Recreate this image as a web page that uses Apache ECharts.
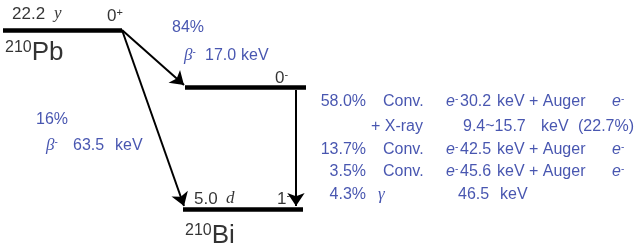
<!DOCTYPE html>
<html>
<head>
<meta charset="utf-8">
<script src="https://cdn.jsdelivr.net/npm/echarts@6/dist/echarts.min.js"></script>
<style>
  html, body { margin: 0; padding: 0; background: #fff; }
  #chart { width: 644px; height: 245px; }
</style>
</head>
<body>
<div id="chart"></div>
<script>
// decay scheme 210Pb -> 210Bi, drawn on a pixel-like value grid
const nuclides = ['Pb', 'Bi'];
const massNumber = '210';
const halfLives = ['22.2', '5.0'];
const halfLifeUnits = ['y', 'd'];
const spins = ['0', '0', '1'];
const parities = ['+', '-', '-'];

// levels: start x, end x, y
const levelStart = [3, 185, 183];
const levelEnd = [122, 306, 303];
const levelY = [30, 87, 209];

const branchPct = ['84%', '16%'];
const betaEnergy = ['17.0', '63.5'];

const convPct = ['58.0%', '13.7%', '3.5%', '4.3%'];
const convEnergy = ['30.2', '42.5', '45.6', '46.5'];
const convRowY = [102, 150, 172, 195];
const xrayRange = '9.4~15.7';
const xrayPct = '22.7%';

const blue = '#1a2c9c';
const font = 'Liberation Sans';

const chart = echarts.init(document.getElementById('chart'));

const levelData = levelStart.map((x0, i) => ({
  coords: [[x0, levelY[i]], [levelEnd[i], levelY[i]]]
}));

// transitions: beta branches from the 0+ level end, gamma/IC between Bi levels
const arrowData = [
  { coords: [[levelEnd[0], levelY[0]], [levelStart[1] - 1, levelY[1] - 2]] },
  { coords: [[levelEnd[0], levelY[0]], [levelStart[2] + 1, levelY[2] - 3]] },
  { coords: [[296, levelY[1] + 3], [296, levelY[2] - 3]] }
];

const rich = {
  t: { color: blue, fontSize: 16, fontFamily: font },
  i: { color: blue, fontSize: 16, fontFamily: font, fontStyle: 'italic' },
  g: { color: blue, fontSize: 17, fontFamily: 'Liberation Serif', fontStyle: 'italic' },
  s: { color: blue, fontSize: 10, fontFamily: font, verticalAlign: 'top' },
  k: { color: '#000', fontSize: 17, fontFamily: font },
  ki: { color: '#000', fontSize: 17, fontFamily: 'Liberation Serif', fontStyle: 'italic' },
  ks: { color: '#000', fontSize: 11, fontFamily: font, verticalAlign: 'top' },
  big: { color: '#000', fontSize: 26, fontFamily: font },
  bigs: { color: '#000', fontSize: 16, fontFamily: font, verticalAlign: 'top' }
};

function txt(x, y, str, side) {
  return {
    value: [x, y],
    label: { formatter: str, position: side || 'right' }
  };
}

const e = '{i|e}{s|-}';
const labels = [
  txt(12, 14, `{k|${halfLives[0]}}`),
  txt(54, 14, `{ki|${halfLifeUnits[0]}}`),
  txt(107, 16, `{k|${spins[0]}}{ks|${parities[0]}}`),
  txt(5, 53, `{bigs|${massNumber}}{big|${nuclides[0]}}`),
  txt(275, 78, `{k|${spins[1]}}{ks|${parities[1]}}`),
  txt(194, 199, `{k|${halfLives[1]}}`),
  txt(226, 199, `{ki|${halfLifeUnits[1]}}`),
  txt(277, 199, `{k|${spins[2]}}{ks|${parities[2]}}`),
  txt(185, 236, `{bigs|${massNumber}}{big|${nuclides[1]}}`),

  txt(172, 28, `{t|${branchPct[0]}}`),
  txt(184, 56, `{g|β}{s|-}`),
  txt(205, 56, `{t|${betaEnergy[0]}}`),
  txt(241, 56, `{t|keV}`),
  txt(36, 120, `{t|${branchPct[1]}}`),
  txt(46, 146, `{g|β}{s|-}`),
  txt(73, 146, `{t|${betaEnergy[1]}}`),
  txt(115, 146, `{t|keV}`),

  txt(371, 127, `{t|+ X-ray}`),
  txt(463, 127, `{t|${xrayRange}}`),
  txt(541, 127, `{t|keV}`),
  txt(578, 127, `{t|(${xrayPct})}`)
];

convPct.forEach((p, i) => {
  const y = convRowY[i];
  labels.push(txt(366, y, `{t|${p}}`, 'left'));
  labels.push(txt(i < 3 ? 497 : 500, y, `{t|keV}`));
  if (i < 3) {
    labels.push(txt(383, y, `{t|Conv.}`));
    labels.push(txt(446, y, e));
    labels.push(txt(460, y, `{t|${convEnergy[i]}}`));
    labels.push(txt(529, y, `{t|+ Auger}`));
    labels.push(txt(612, y, e));
  } else {
    labels.push(txt(378, y, `{g|γ}`));
    labels.push(txt(458, y, `{t|${convEnergy[i]}}`));
  }
});

chart.setOption({
  animation: false,
  grid: { left: 0, right: 0, top: 0, bottom: 0 },
  xAxis: { type: 'value', min: 0, max: 644, show: false },
  yAxis: { type: 'value', min: 0, max: 245, inverse: true, show: false },
  series: [
    {
      type: 'lines',
      coordinateSystem: 'cartesian2d',
      symbol: 'none',
      lineStyle: { color: '#000', width: 4.5, opacity: 1 },
      data: levelData
    },
    {
      type: 'lines',
      coordinateSystem: 'cartesian2d',
      symbol: ['none', 'arrow'],
      symbolSize: [7, 13],
      lineStyle: { color: '#000', width: 2, opacity: 1 },
      data: arrowData
    },
    {
      type: 'scatter',
      symbolSize: 0,
      silent: true,
      label: { show: true, distance: 0, rich: rich },
      data: labels
    }
  ]
});
</script>
</body>
</html>
